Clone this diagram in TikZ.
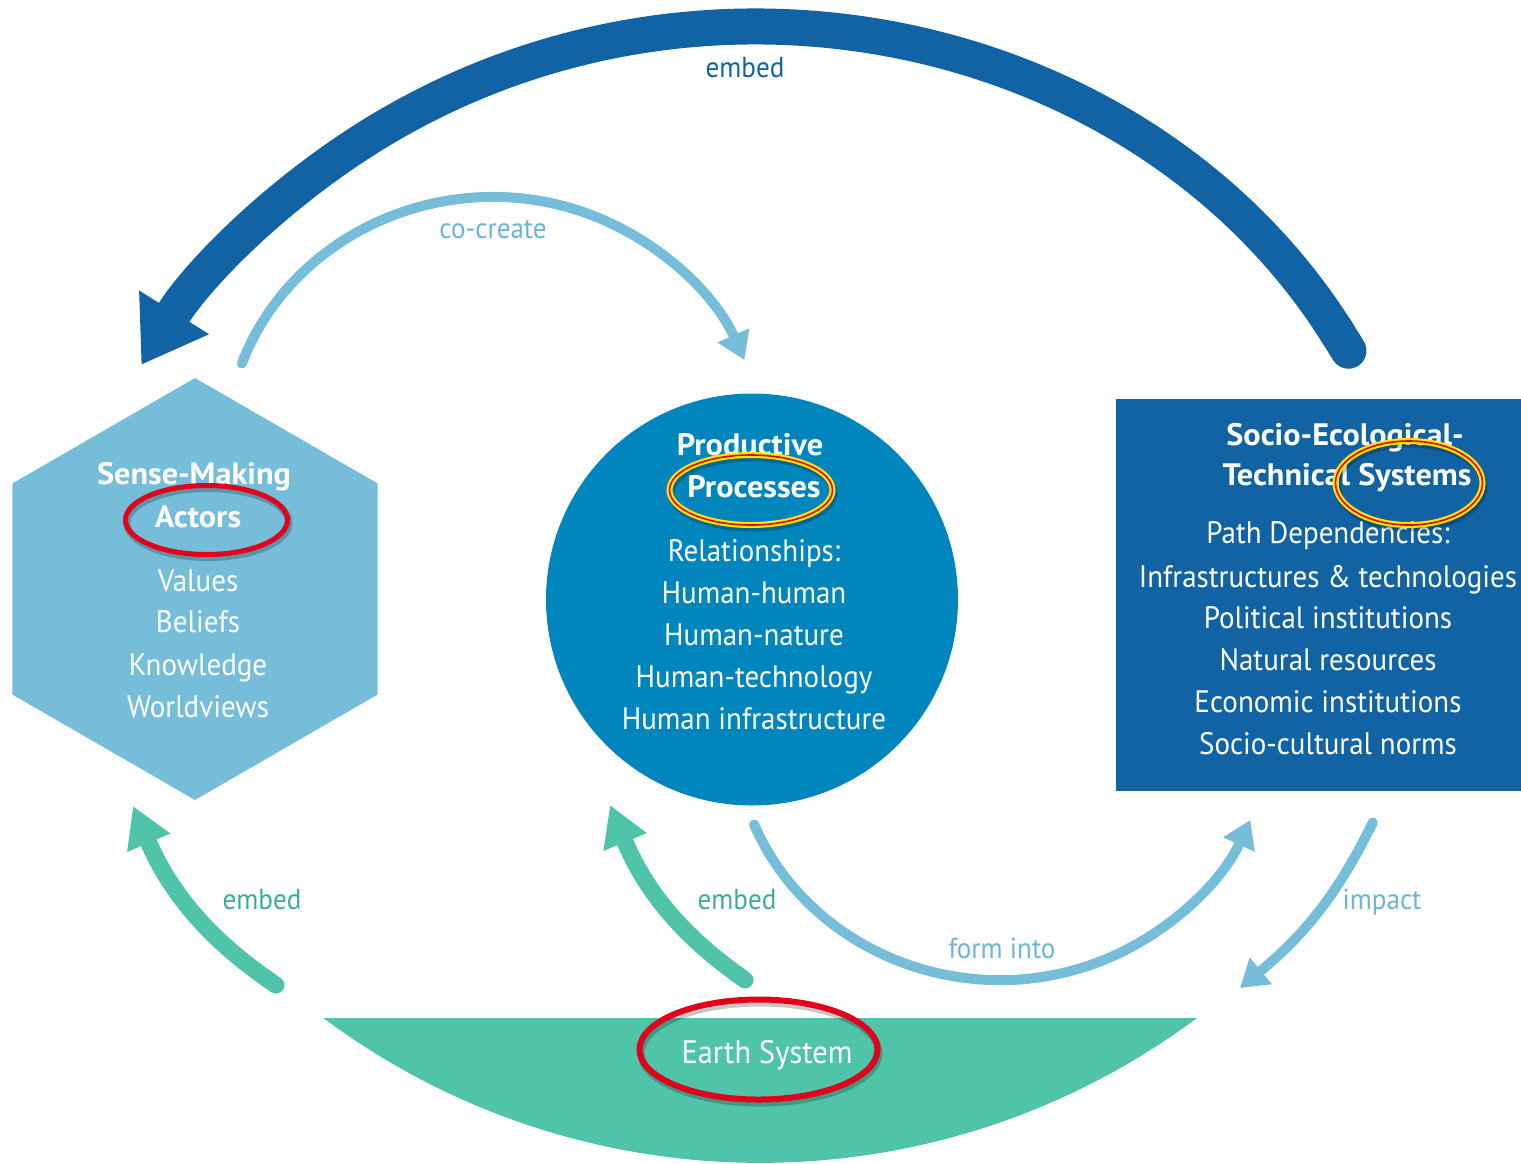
\documentclass[tikz,border=0pt]{standalone}
\usepackage{fontspec}
\setmainfont{PT Sans}[FakeStretch=0.935, BoldFeatures={FakeStretch=1.04}]
\usetikzlibrary{arrows.meta}
\definecolor{lightblue}{HTML}{75BDD9}
\definecolor{midblue}{HTML}{0085BC}
\definecolor{darkblue}{HTML}{1163A3}
\definecolor{esgreen}{HTML}{50C4A8}
\definecolor{greentext}{HTML}{3DAE90}
\definecolor{labelblue}{HTML}{6DB5D6}
\definecolor{ringred}{HTML}{E3001B}
\definecolor{ringyellow}{HTML}{FFE500}
\begin{document}
\begin{tikzpicture}[x=1pt,y=-1pt,
  body/.style={text=white, font=\fontsize{31}{37}\selectfont, inner sep=0pt, anchor=base},
  title/.style={text=white, font=\fontsize{31}{37}\selectfont\bfseries, inner sep=0pt, anchor=base},
  lbl/.style={font=\fontsize{29}{33}\selectfont, inner sep=0pt},
  bigarrow/.style={draw=darkblue, line width=36pt, arrows={Round Cap[]-Triangle[length=62pt,width=78pt]}},
  thinarrow/.style={draw=lightblue, line width=10pt, arrows={Round Cap[]-Triangle[length=27pt,width=33pt]}},
  greenarrow/.style={draw=esgreen, line width=17pt, arrows={Round Cap[]-Triangle[length=40pt,width=44pt]}},
  ringshadow/.style={draw=black, opacity=0.22, line width=7pt},
  redring/.style={draw=ringred, line width=5pt},
  yellowring/.style={draw=ringyellow, line width=6pt},
  innerred/.style={draw=ringred, line width=1.6pt}
]
\useasboundingbox (0,0) rectangle (1521,1163);

% ---------- shapes ----------
\coordinate (hexc) at (195,589);
\fill[lightblue] (195,378) -- (377.7,483.5) -- (377.7,694.5) -- (195,800) -- (12.3,694.5) -- (12.3,483.5) -- cycle;
\node[circle, fill=midblue, minimum size=412pt, inner sep=0pt] (pp) at (752,599.5) {};
\node[rectangle, fill=darkblue, minimum width=405pt, minimum height=392pt, inner sep=0pt, anchor=north west] (sets) at (1116,399) {};
\fill[esgreen] (323,1018) -- (1197,1018) arc[start angle=53.3, end angle=126.7, radius=731] -- cycle;

% ---------- arrows ----------
\coordinate (bigS) at (1358,366);
\draw[bigarrow] (bigS) arc[start angle=-31.9, end angle=-148, radius=717];
\coordinate (ccS) at (240,368);
\draw[thinarrow] (ccS) arc[start angle=-157.9, end angle=-23.9, radius=274];
\coordinate (fiS) at (752,820);
\draw[thinarrow] (fiS) arc[start angle=155.4, end angle=24.6, radius=274];
\coordinate (imS) at (1375,818);
\coordinate (imE) at (1240,988);
\draw[thinarrow] (imS) to[bend left=12] (imE);
\coordinate (g1S) at (283,990);
\coordinate (g1E) at (133,806);
\draw[greenarrow] (g1S) to[bend left=16] (g1E);
\coordinate (g2S) at (752,985);
\coordinate (g2E) at (610,805);
\draw[greenarrow] (g2S) to[bend left=16] (g2E);

% ---------- labels ----------
\node[lbl, text=darkblue] (lEmbedTop) at (745,68) {embed};
\node[lbl, text=labelblue] (lCo) at (493,230) {co-create};
\node[lbl, text=greentext] (lEmbed1) at (262,900) {embed};
\node[lbl, text=greentext] (lEmbed2) at (737,900) {embed};
\node[lbl, text=labelblue] (lForm) at (1002,948) {form into};
\node[lbl, text=labelblue] (lImpact) at (1382,902) {impact};

% ---------- hexagon text ----------
\node[title] (h1) at (194,484) {Sense-Making};
\node[title] (h2) at (198,527) {Actors};
\node[body] (h3) at (198,591) {Values};
\node[body] (h4) at (198,632) {Beliefs};
\node[body] (h5) at (198,675) {Knowledge};
\node[body] (h6) at (198,717) {Worldviews};

% ---------- circle text ----------
\node[title] (c1) at (750,455) {Productive};
\node[title] (c2) at (754,497) {Processes};
\node[body] (c3) at (754,561) {Relationships:};
\node[body] (c4) at (754,603) {Human-human};
\node[body] (c5) at (754,645) {Human-nature};
\node[body] (c6) at (754,687) {Human-technology};
\node[body] (c7) at (754,729) {Human infrastructure};

% ---------- rectangle text ----------
\node[title] (r1) at (1345,445) {Socio-Ecological-};
\node[title] (r2) at (1347,485) {Technical Systems};
\node[body] (r3) at (1328,543) {Path Dependencies:};
\node[body] (r4) at (1328,587) {Infrastructures \& technologies};
\node[body] (r5) at (1328,628) {Political institutions};
\node[body] (r6) at (1328,670) {Natural resources};
\node[body] (r7) at (1328,712) {Economic institutions};
\node[body] (r8) at (1328,754) {Socio-cultural norms};

% ---------- earth text ----------
\node[body, font=\fontsize{32.5}{38}\selectfont] (earth) at (767,1063) {Earth System};

% ---------- rings ----------
\draw[ringshadow] (208,523) ellipse [x radius=81, y radius=34.5];
\draw[redring] (206.5,520) ellipse [x radius=81, y radius=34.5];

\draw[ringshadow] (752.5,493) ellipse [x radius=81.5, y radius=35];
\draw[yellowring] (751,490) ellipse [x radius=81.5, y radius=35];
\draw[innerred] (751,490) ellipse [x radius=81.5, y radius=35];

\draw[ringshadow] (1410.5,486) ellipse [x radius=73.5, y radius=42];
\draw[yellowring] (1409,483) ellipse [x radius=73.5, y radius=42];
\draw[innerred] (1409,483) ellipse [x radius=73.5, y radius=42];

\draw[ringshadow] (760,1053) ellipse [x radius=119, y radius=50];
\draw[redring, line width=6pt] (758.5,1049.5) ellipse [x radius=119, y radius=50];
\end{tikzpicture}
\end{document}
